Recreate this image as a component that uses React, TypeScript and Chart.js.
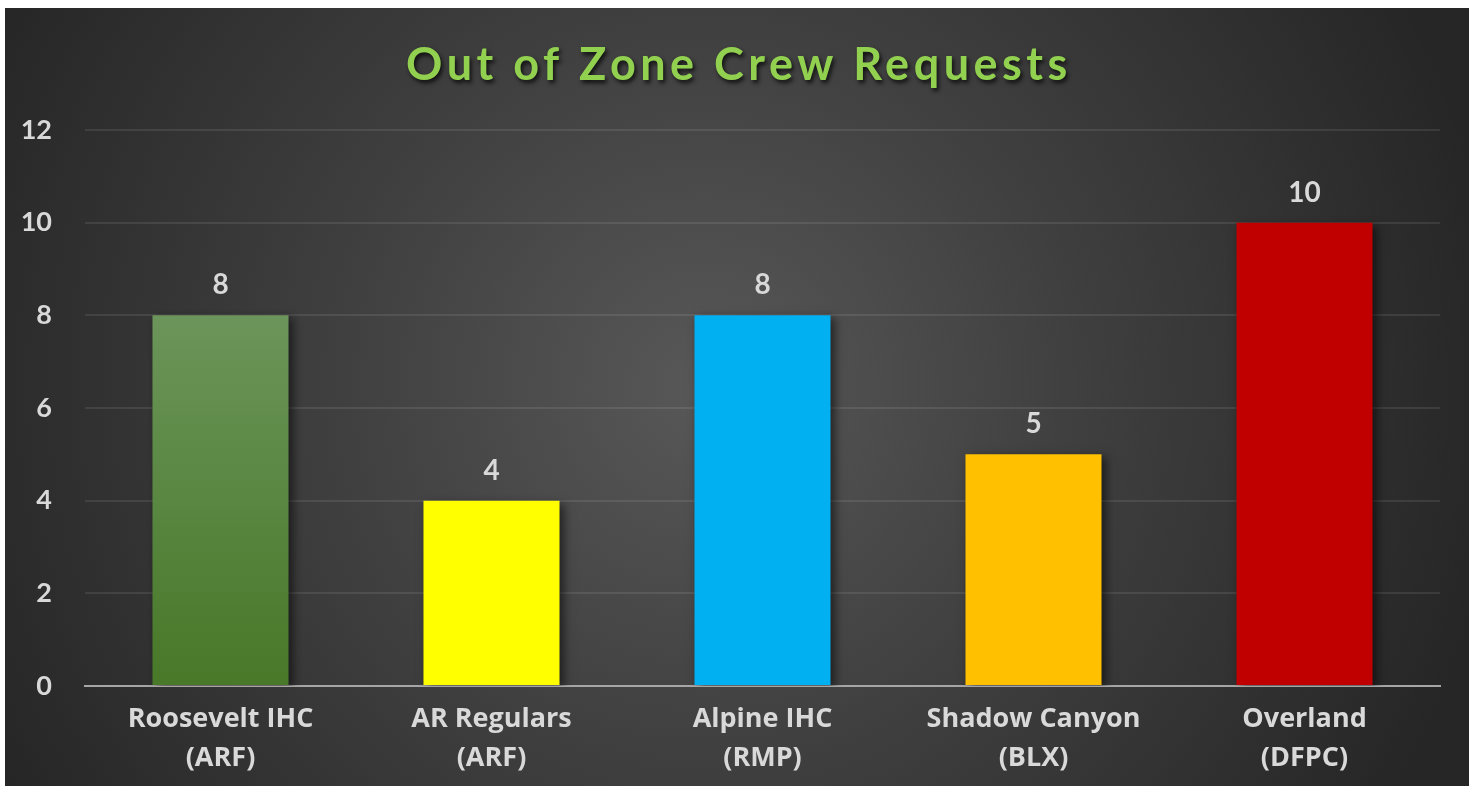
import React, { useEffect, useRef } from "react";
import { Chart, registerables } from "chart.js";

Chart.register(...registerables);

const TITLE = "Out of Zone Crew Requests";
const categories: string[][] = [
  ["Roosevelt IHC", "(ARF)"],
  ["AR Regulars", "(ARF)"],
  ["Alpine IHC", "(RMP)"],
  ["Shadow Canyon", "(BLX)"],
  ["Overland", "(DFPC)"],
];
const requests: number[] = [8, 4, 8, 5, 10];
const barColors: string[] = ["green-gradient", "#FFFF00", "#00B0F0", "#FFC000", "#C00000"];
const yTicks: number[] = [0, 2, 4, 6, 8, 10, 12];

const FONT = "Lato, 'Open Sans', 'DejaVu Sans', sans-serif";
const XFONT = "'Open Sans', Lato, 'DejaVu Sans', sans-serif";
const TEXT = "#d9d9d9";

const bgPlugin = {
  id: "bgPlugin",
  beforeDraw(chart: any) {
    const { ctx, width, height } = chart;
    ctx.save();
    const g = ctx.createRadialGradient(700, 380, 0, 700, 380, 800);
    g.addColorStop(0, "#585858");
    g.addColorStop(0.45, "#404040");
    g.addColorStop(1, "#262626");
    ctx.fillStyle = g;
    ctx.fillRect(0, 0, width, height);
    ctx.restore();
  },
  beforeDatasetsDraw(chart: any) {
    const ctx = chart.ctx;
    ctx.save();
    ctx.shadowColor = "rgba(0,0,0,0.55)";
    ctx.shadowBlur = 9;
    ctx.shadowOffsetX = 4;
    ctx.shadowOffsetY = 3;
  },
  afterDatasetsDraw(chart: any) {
    const ctx = chart.ctx;
    ctx.restore();
    const meta = chart.getDatasetMeta(0);
    ctx.save();
    ctx.font = `700 28px ${FONT}`;
    ctx.fillStyle = TEXT;
    ctx.textAlign = "center";
    ctx.textBaseline = "alphabetic";
    meta.data.forEach((el: any, i: number) => {
      ctx.fillText(String(chart.data.datasets[0].data[i]), el.x, el.y - 21);
    });
    ctx.restore();
  },
  afterDraw(chart: any) {
    const { ctx, width } = chart;
    ctx.save();
    ctx.font = `700 45px ${FONT}`;
    (ctx as any).letterSpacing = "4.5px";
    ctx.fillStyle = "#92D050";
    ctx.textAlign = "center";
    ctx.textBaseline = "alphabetic";
    ctx.shadowColor = "rgba(0,0,0,0.75)";
    ctx.shadowBlur = 4;
    ctx.shadowOffsetX = 2;
    ctx.shadowOffsetY = 3;
    ctx.fillText(TITLE, width / 2 + 2, 72);
    ctx.restore();
  },
};

export default function App() {
  const ref = useRef<HTMLCanvasElement | null>(null);
  useEffect(() => {
    if (!ref.current) return;
    const chart = new Chart(ref.current, {
      type: "bar",
      data: {
        labels: categories,
        datasets: [
          {
            data: requests,
            backgroundColor: (c: any) => {
              const col = barColors[c.dataIndex];
              if (col !== "green-gradient") return col;
              const area = c.chart.chartArea;
              if (!area) return "#5a8a44";
              const y0 = c.chart.scales.y.getPixelForValue(requests[c.dataIndex]);
              const g = c.chart.ctx.createLinearGradient(0, y0, 0, area.bottom);
              g.addColorStop(0, "#6B955A");
              g.addColorStop(1, "#487828");
              return g;
            },
            borderWidth: 0,
            categoryPercentage: 1,
            barPercentage: 0.502,
          },
        ],
      },
      options: {
        responsive: false,
        animation: false,
        layout: { padding: { top: 122, right: 29, left: 0, bottom: 0 } },
        plugins: {
          legend: { display: false },
          title: { display: false },
          tooltip: { enabled: false },
        },
        scales: {
          x: {
            grid: { display: false, drawTicks: false },
            border: { display: true, color: "#a6a6a6", width: 2 },
            ticks: {
              color: TEXT,
              font: { family: XFONT, size: 27, weight: "bold", lineHeight: 1.45 },
              padding: 14,
              maxRotation: 0,
              autoSkip: false,
            },
            afterFit(scale: any) {
              scale.height = 100;
            },
          },
          y: {
            min: 0,
            max: 12,
            afterBuildTicks(scale: any) {
              scale.ticks = yTicks.map((v) => ({ value: v }));
            },
            grid: { color: "rgba(255,255,255,0.09)", lineWidth: 2, drawTicks: false },
            border: { display: false },
            ticks: {
              color: TEXT,
              font: { family: FONT, size: 27, weight: "bold" },
              padding: 33,
            },
            afterFit(scale: any) {
              scale.width = 80;
            },
          },
        },
      },
      plugins: [bgPlugin],
    } as any);
    return () => chart.destroy();
  }, []);
  return (
    <div style={{ position: "absolute", left: 5, top: 8, width: 1464, height: 778 }}>
      <canvas ref={ref} width={1464} height={778} style={{ display: "block" }} />
    </div>
  );
}
